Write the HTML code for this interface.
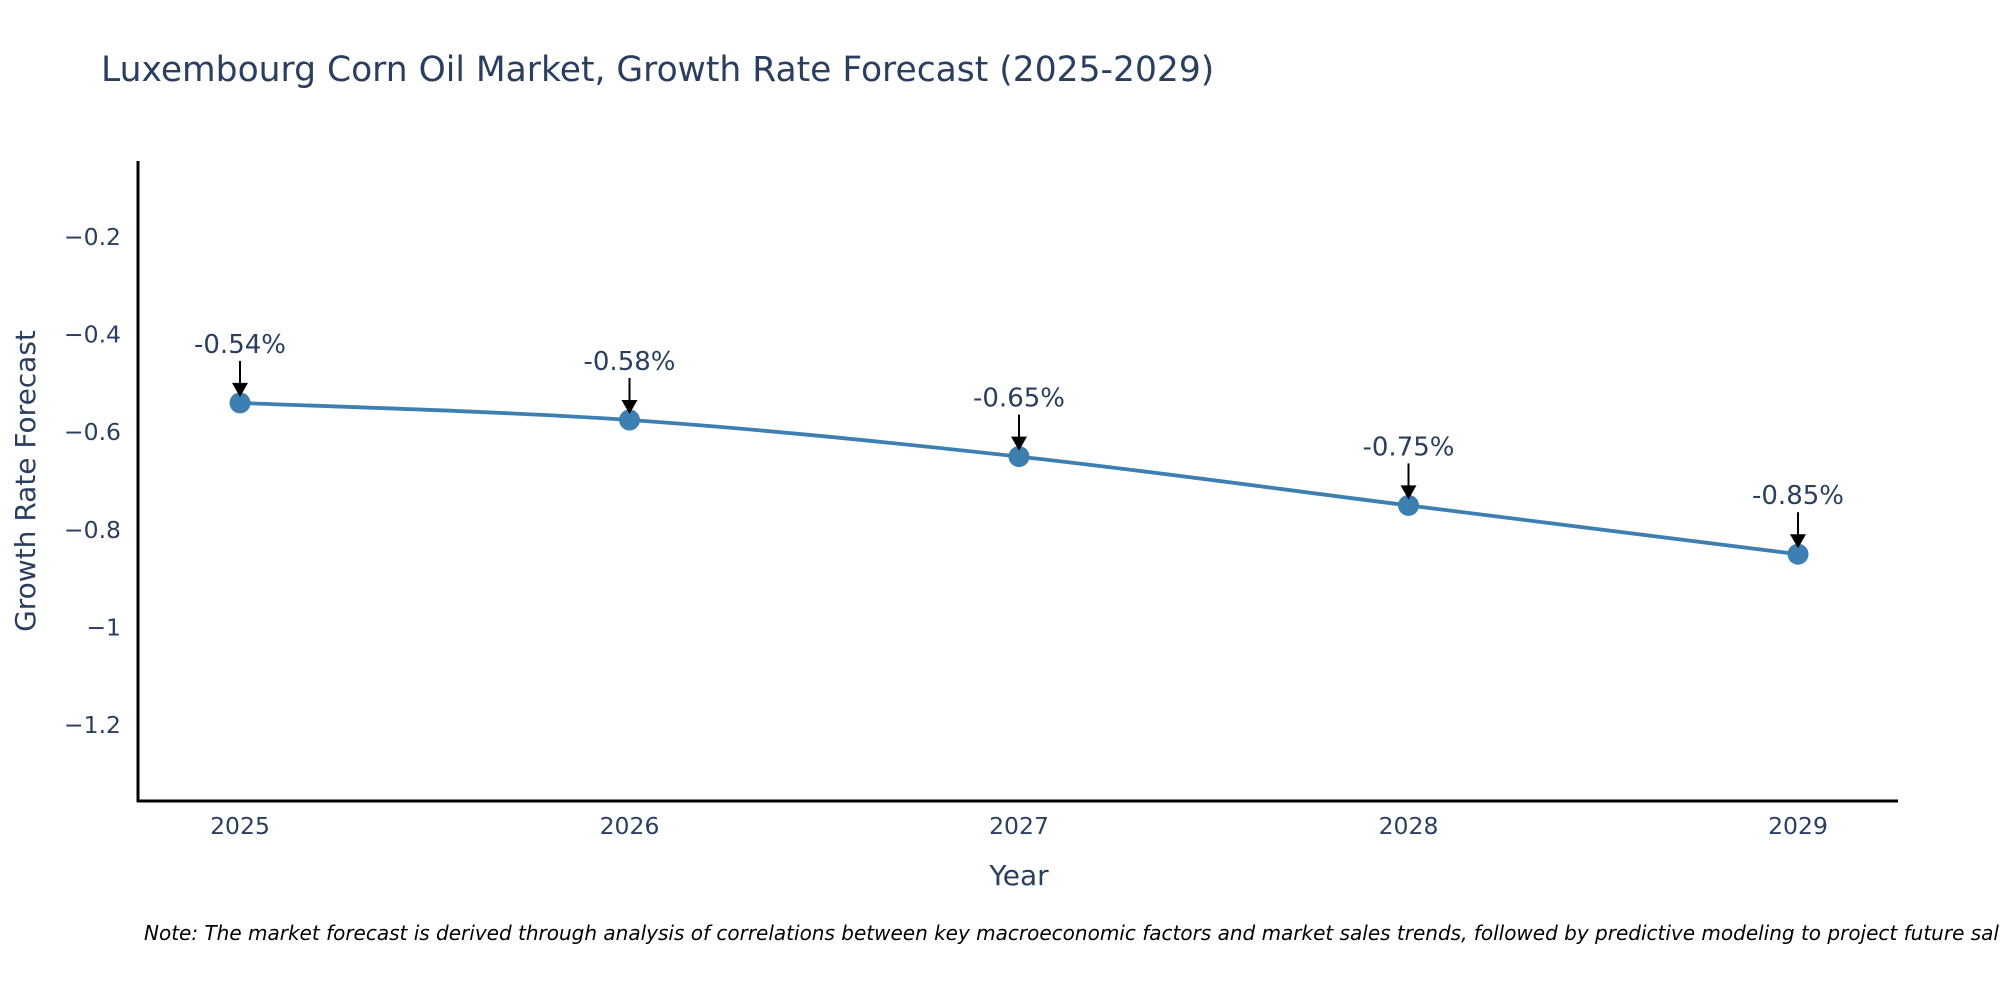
<!DOCTYPE html>
<html><head><meta charset="utf-8"><style>
body{margin:0;background:#fff;}
svg text{font-family:"DejaVu Sans","Liberation Sans",sans-serif;}
</style></head><body>
<svg id="chart" width="2000" height="1000" xmlns="http://www.w3.org/2000/svg">
<text x="101" y="81" font-size="34.5" fill="#2a3f5f">Luxembourg Corn Oil Market, Growth Rate Forecast (2025-2029)</text>
<g id="yticks"></g><g id="xticks"></g>
<line x1="138" y1="161" x2="138" y2="802" stroke="#000" stroke-width="3"/>
<line x1="137" y1="801" x2="1898" y2="801" stroke="#000" stroke-width="3"/>
<text transform="translate(35,481) rotate(-90)" text-anchor="middle" font-size="28" fill="#2a3f5f">Growth Rate Forecast</text>
<text x="1019" y="885" text-anchor="middle" font-size="28" fill="#2a3f5f">Year</text>
<g id="series"></g><g id="annots"></g>
<text x="144" y="940" font-size="20" font-style="italic" fill="#000">Note: The market forecast is derived through analysis of correlations between key macroeconomic factors and market sales trends, followed by predictive modeling to project future sales.</text>
</svg>
<script>
const years=[2025,2026,2027,2028,2029];
const values=[-0.54,-0.575,-0.65,-0.75,-0.85];
const labels=["-0.54%","-0.58%","-0.65%","-0.75%","-0.85%"];
const yTicks=[-0.2,-0.4,-0.6,-0.8,-1,-1.2];
const yTickLabels=["−0.2","−0.4","−0.6","−0.8","−1","−1.2"];
const NS="http://www.w3.org/2000/svg";
function X(v){return 240+(v-2025)*389.5;}
function Y(v){return 237+(-0.2-v)*488;}
function mk(t,a,p){const e=document.createElementNS(NS,t);for(const k in a)e.setAttribute(k,a[k]);p.appendChild(e);return e;}
const yt=document.getElementById('yticks');
yTicks.forEach((v,i)=>{const t=mk('text',{x:121,y:Y(v)+8,'text-anchor':'end','font-size':23.5,fill:'#2a3f5f'},yt);


t.textContent=yTickLabels[i];});
const xt=document.getElementById('xticks');
years.forEach(v=>{const t=mk('text',{x:X(v),y:834,'text-anchor':'middle','font-size':23.5,fill:'#2a3f5f'},xt);


t.textContent=v;});
const pts=years.map((y,i)=>[X(y),Y(values[i])]);
let d=`M${pts[0][0]},${pts[0][1]}`;
for(let i=0;i<pts.length-1;i++){const p0=pts[i-1]||pts[i],p1=pts[i],p2=pts[i+1],p3=pts[i+2]||p2;
const c1=[p1[0]+(p2[0]-p0[0])/6,p1[1]+(p2[1]-p0[1])/6],c2=[p2[0]-(p3[0]-p1[0])/6,p2[1]-(p3[1]-p1[1])/6];
d+=` C${c1[0]},${c1[1]} ${c2[0]},${c2[1]} ${p2[0]},${p2[1]}`;}
const s=document.getElementById('series');
const line=mk('path',{d:d,fill:'none',stroke:'#3d7fb1','stroke-width':3.8},s);


const an=document.getElementById('annots');
pts.forEach((p,i)=>{const c=mk('circle',{cx:p[0],cy:p[1],r:10.5,fill:'#3d7fb1'},s);


const l=mk('line',{x1:p[0],y1:p[1]-42,x2:p[0],y2:p[1]-18,stroke:'#000','stroke-width':2},an);


const h=mk('path',{d:`M${p[0]-8},${p[1]-20} L${p[0]+8},${p[1]-20} L${p[0]},${p[1]-6} Z`,fill:'#000'},an);


const t=mk('text',{x:p[0],y:p[1]-50,'text-anchor':'middle','font-size':26,fill:'#2a3f5f'},an);


t.textContent=labels[i];});
</script>
</body></html>
